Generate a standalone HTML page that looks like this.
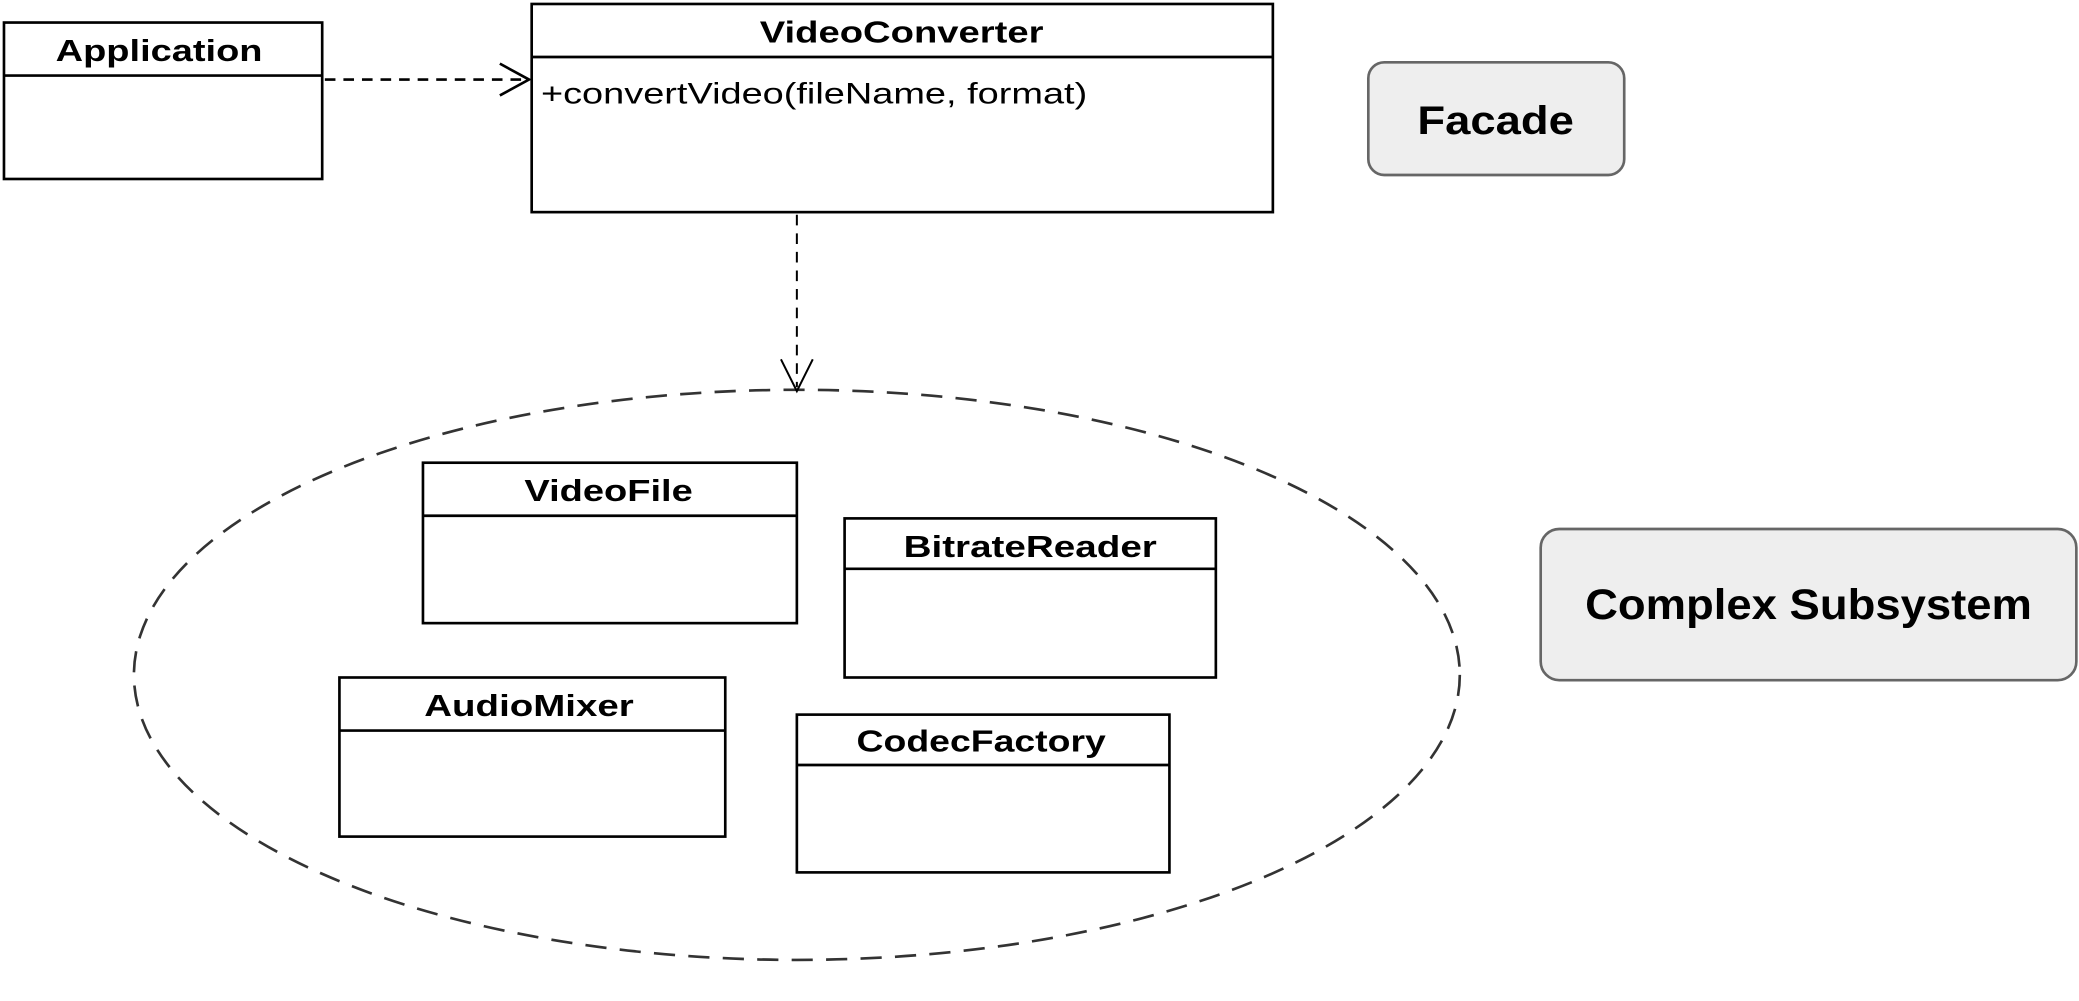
<!DOCTYPE html>
<html><head><meta charset="utf-8"><style>
html,body{margin:0;padding:0;background:#fff;width:2079px;height:1001px;overflow:hidden}
svg{display:block}
text{font-family:"Liberation Sans",Arial,sans-serif;fill:#000}
.c{font-weight:bold;font-size:23px;text-anchor:middle}
.b{fill:#fff;stroke:#000;stroke-width:2}
.l{stroke:#000;stroke-width:2}
</style></head><body>
<svg width="2079" height="1001" viewBox="0 0 1568 755" preserveAspectRatio="none">
<ellipse cx="601" cy="509" rx="500" ry="215" fill="none" stroke="#333" stroke-width="2" stroke-dasharray="16,10"/>
<rect class="b" x="3" y="17" width="240" height="118"/>
<line class="l" x1="3" y1="57" x2="243" y2="57"/>
<text class="c" x="120" y="46" textLength="156" lengthAdjust="spacingAndGlyphs">Application</text>
<rect class="b" x="401" y="3" width="559" height="157"/>
<line class="l" x1="401" y1="43" x2="960" y2="43"/>
<text class="c" x="680" y="32" textLength="214" lengthAdjust="spacingAndGlyphs">VideoConverter</text>
<text x="408" y="78" style="font-size:22px" textLength="412" lengthAdjust="spacingAndGlyphs">+convertVideo(fileName, format)</text>
<line x1="245" y1="60" x2="397" y2="60" stroke="#000" stroke-width="2" stroke-dasharray="8,6"/>
<polyline points="377,48 399,60 377,72" fill="none" stroke="#000" stroke-width="2"/>
<line x1="601" y1="162" x2="601" y2="292" stroke="#000" stroke-width="1.5" stroke-dasharray="8,6"/>
<polyline points="589,271 601,295 613,271" fill="none" stroke="#000" stroke-width="1.5"/>
<rect x="1032" y="47" width="193" height="85" rx="12" fill="#eeeeee" stroke="#666" stroke-width="2"/>
<text x="1128" y="101" style="font-weight:bold;font-size:30px;text-anchor:middle" textLength="118" lengthAdjust="spacingAndGlyphs">Facade</text>
<rect x="1162" y="399" width="404" height="114" rx="14" fill="#eeeeee" stroke="#666" stroke-width="2"/>
<text x="1364" y="467" style="font-weight:bold;font-size:32px;text-anchor:middle" textLength="337" lengthAdjust="spacingAndGlyphs">Complex Subsystem</text>
<rect class="b" x="319" y="349" width="282" height="121"/>
<line class="l" x1="319" y1="389" x2="601" y2="389"/>
<text class="c" x="459" y="378" textLength="127" lengthAdjust="spacingAndGlyphs">VideoFile</text>
<rect class="b" x="637" y="391" width="280" height="120"/>
<line class="l" x1="637" y1="429" x2="917" y2="429"/>
<text class="c" x="777" y="420" textLength="191" lengthAdjust="spacingAndGlyphs">BitrateReader</text>
<rect class="b" x="256" y="511" width="291" height="120"/>
<line class="l" x1="256" y1="551" x2="547" y2="551"/>
<text class="c" x="399" y="540" textLength="158" lengthAdjust="spacingAndGlyphs">AudioMixer</text>
<rect class="b" x="601" y="539" width="281" height="119"/>
<line class="l" x1="601" y1="577" x2="882" y2="577"/>
<text class="c" x="740" y="567" textLength="188" lengthAdjust="spacingAndGlyphs">CodecFactory</text>
</svg>
</body></html>
